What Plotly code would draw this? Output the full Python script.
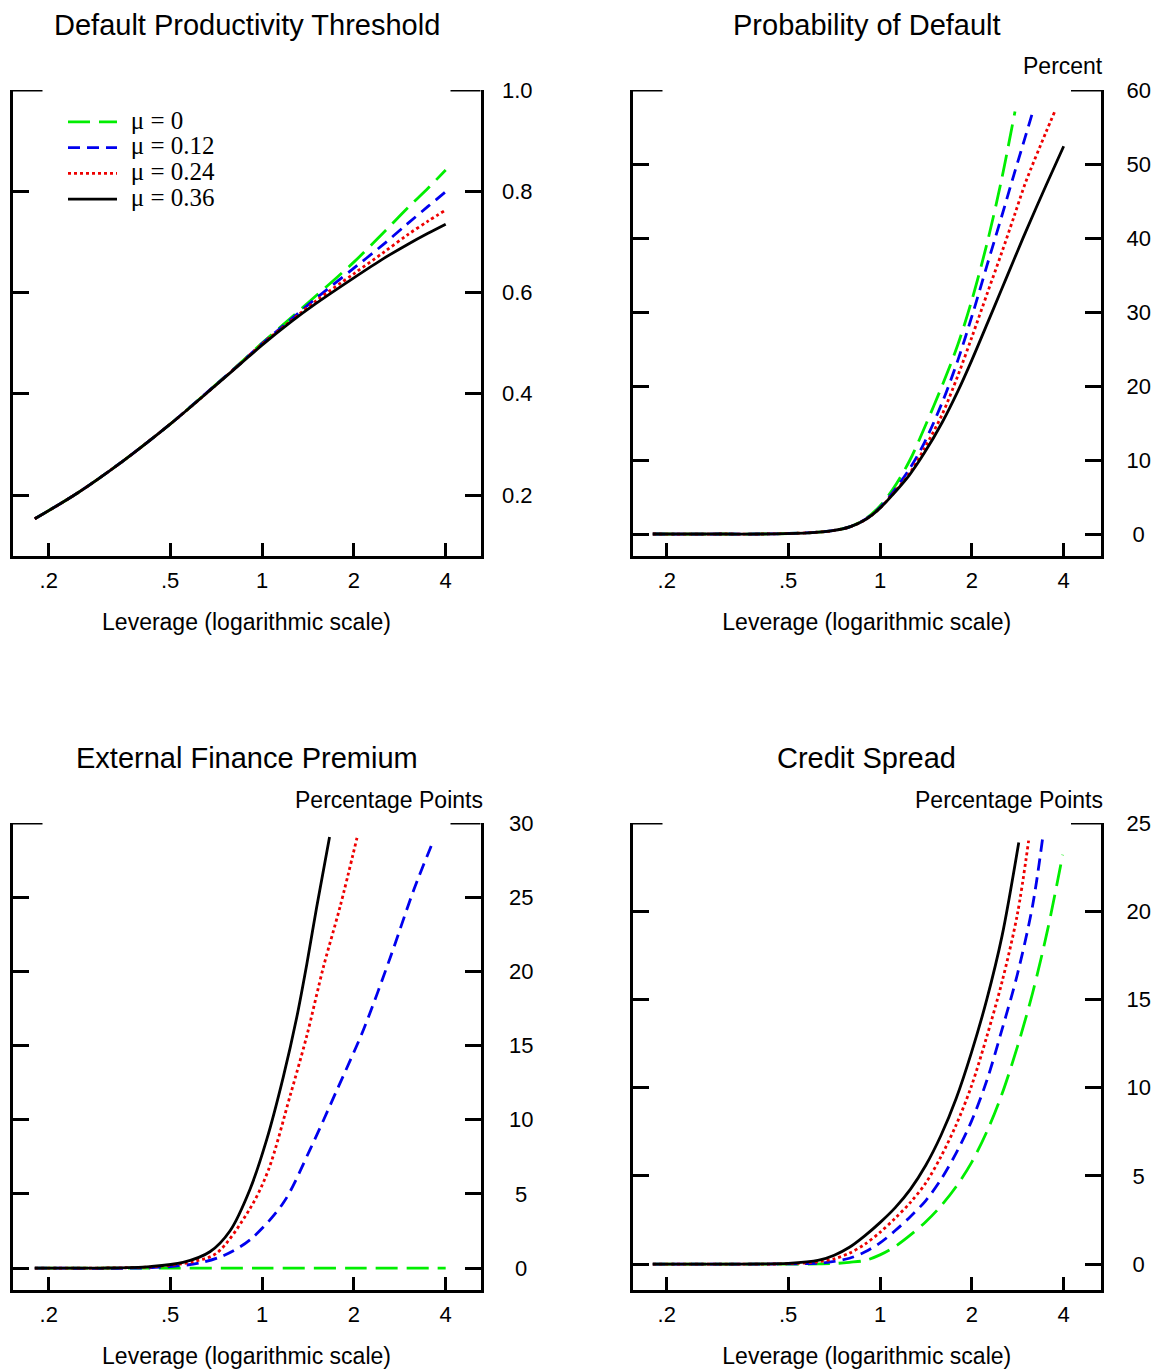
import math
import plotly.graph_objects as go

# ---------------- data ----------------
SERIES_NAMES = ["\u03bc = 0", "\u03bc = 0.12", "\u03bc = 0.24", "\u03bc = 0.36"]
COLORS = ["#00ee00", "#0000ee", "#ee0000", "#000000"]
DASHES = ["22px,9px", "12px,7px", "3px,3px", "solid"]

PANEL_TITLES = ["Default Productivity Threshold", "Probability of Default",
                "External Finance Premium", "Credit Spread"]
UNIT_LABELS = ["", "Percent", "Percentage Points", "Percentage Points"]
X_TITLE = "Leverage (logarithmic scale)"
X_TICKVALS = [0.2, 0.5, 1, 2, 4]
X_TICKTEXT = [".2", ".5", "1", "2", "4"]

# Panel 1: default productivity threshold
thr_lev = [0.18, 0.25, 0.35, 0.5, 0.7, 0.85, 1.0, 1.25, 1.5, 2.0, 2.5, 3.0, 3.5, 4.0]
thr_mu0 = [0.153, 0.205, 0.267, 0.340, 0.416, 0.461, 0.500, 0.551, 0.593, 0.660, 0.718, 0.767, 0.806, 0.842]
thr_mu12 = [0.153, 0.205, 0.267, 0.340, 0.416, 0.460, 0.499, 0.548, 0.588, 0.648, 0.695, 0.736, 0.770, 0.799]
thr_mu24 = [0.153, 0.205, 0.267, 0.340, 0.415, 0.460, 0.498, 0.545, 0.583, 0.637, 0.679, 0.714, 0.741, 0.763]
thr_mu36 = [0.153, 0.205, 0.267, 0.340, 0.415, 0.459, 0.496, 0.543, 0.578, 0.629, 0.667, 0.695, 0.717, 0.735]
thr_yticks = [0.2, 0.4, 0.6, 0.8, 1.0]
thr_yticktext = ["0.2", "0.4", "0.6", "0.8", "1.0"]

# Panel 2: probability of default (percent)
pd_lev_mu0 = [0.18, 0.3, 0.45, 0.6, 0.7, 0.8, 0.9, 1.0, 1.1, 1.25, 1.4, 1.6, 1.8, 2.0, 2.25, 2.5, 2.77]
pd_mu0 = [0, 0, 0.02, 0.2, 0.45, 1.0, 2.1, 3.8, 6.0, 9.9, 14.4, 20.1, 25.6, 31.6, 39.5, 47.8, 57.1]
pd_lev_mu12 = [0.18, 0.3, 0.45, 0.6, 0.7, 0.8, 0.9, 1.0, 1.1, 1.25, 1.4, 1.6, 1.8, 2.0, 2.25, 2.5, 2.75, 3.0, 3.19]
pd_mu12 = [0, 0, 0.02, 0.2, 0.45, 1.0, 2.05, 3.6, 5.6, 8.8, 12.4, 17.8, 23.5, 29.4, 36.5, 42.8, 48.6, 53.8, 57.5]
pd_lev_mu24 = [0.18, 0.3, 0.45, 0.6, 0.7, 0.8, 0.9, 1.0, 1.1, 1.25, 1.4, 1.6, 1.8, 2.0, 2.25, 2.5, 2.75, 3.0, 3.5, 3.74]
pd_mu24 = [0, 0, 0.02, 0.2, 0.45, 1.0, 2.0, 3.5, 5.4, 8.2, 11.6, 16.2, 21.4, 26.6, 32.6, 37.9, 42.9, 47.5, 54.3, 57.1]
pd_lev_mu36 = [0.18, 0.3, 0.45, 0.6, 0.7, 0.8, 0.9, 1.0, 1.1, 1.25, 1.4, 1.6, 1.8, 2.0, 2.25, 2.5, 2.75, 3.0, 3.5, 4.0]
pd_mu36 = [0, 0, 0.02, 0.2, 0.45, 1.0, 2.0, 3.5, 5.3, 8.0, 11.0, 15.1, 19.3, 23.5, 28.5, 33.0, 37.1, 40.8, 47.1, 52.4]
pd_yticks = [0, 10, 20, 30, 40, 50, 60]
pd_yticktext = ["\u00a00", "10", "20", "30", "40", "50", "60"]

# Panel 3: external finance premium (percentage points)
efp_lev_mu0 = [0.18, 0.5, 1.0, 2.0, 4.0]
efp_mu0 = [0, 0, 0, 0, 0]
efp_lev_mu12 = [0.18, 0.4, 0.5, 0.625, 0.75, 0.913, 1.175, 1.438, 1.76, 2.154, 2.64, 3.145, 3.66]
efp_mu12 = [0, 0, 0.1, 0.34, 0.85, 1.9, 4.4, 8.0, 12.0, 16.1, 21.0, 25.5, 28.9]
efp_lev_mu24 = [0.18, 0.3, 0.45, 0.6, 0.71, 0.913, 1.049, 1.236, 1.40, 1.59, 1.805, 2.048]
efp_mu24 = [0, 0, 0.1, 0.45, 1.0, 4.0, 6.6, 11.6, 15.6, 20.3, 24.4, 29.0]
efp_lev_mu36 = [0.18, 0.3, 0.43, 0.551, 0.675, 0.785, 0.913, 1.036, 1.175, 1.30, 1.40, 1.51, 1.665]
efp_mu36 = [0, 0, 0.1, 0.38, 1.1, 2.5, 5.3, 8.65, 12.9, 16.9, 20.4, 24.3, 29.06]
efp_yticks = [0, 5, 10, 15, 20, 25, 30]
efp_yticktext = ["\u00a00", "\u00a05", "10", "15", "20", "25", "30"]

# Panel 4: credit spread (percentage points)
cs_lev_mu0 = [0.18, 0.3, 0.5, 0.631, 0.708, 0.794, 0.891, 1.0, 1.122, 1.259, 1.413, 1.585, 1.778,
              1.995, 2.239, 2.512, 2.818, 3.162, 3.548, 3.97]
cs_mu0 = [0, 0, 0.0, 0.01, 0.03, 0.1, 0.2, 0.52, 1.0, 1.65, 2.4, 3.3, 4.4,
          5.75, 7.5, 9.65, 12.3, 15.35, 19.0, 23.2]
cs_lev_mu12 = [0.18, 0.3, 0.5, 0.631, 0.708, 0.794, 0.891, 1.0, 1.122, 1.259, 1.413, 1.585, 1.778,
               1.995, 2.239, 2.512, 2.818, 3.162, 3.41]
cs_mu12 = [0, 0, 0.01, 0.05, 0.15, 0.33, 0.68, 1.2, 1.9, 2.7, 3.6, 4.8, 6.3,
           8.1, 10.4, 13.3, 16.4, 20.3, 24.1]
cs_lev_mu24 = [0.18, 0.3, 0.5, 0.631, 0.708, 0.794, 0.891, 1.0, 1.122, 1.259, 1.413, 1.585, 1.778,
               1.995, 2.239, 2.512, 2.818, 3.07]
cs_mu24 = [0, 0, 0.02, 0.14, 0.3, 0.62, 1.12, 1.8, 2.6, 3.5, 4.6, 6.1, 7.9,
           10.1, 12.9, 16.0, 19.8, 24.0]
cs_lev_mu36 = [0.18, 0.3, 0.5, 0.631, 0.708, 0.794, 0.891, 1.0, 1.122, 1.259, 1.413, 1.585, 1.778,
               1.995, 2.239, 2.512, 2.85]
cs_mu36 = [0, 0, 0.04, 0.22, 0.5, 0.95, 1.6, 2.35, 3.2, 4.25, 5.6, 7.3, 9.4,
           12.0, 15.0, 18.6, 23.9]
cs_yticks = [0, 5, 10, 15, 20, 25]
cs_yticktext = ["\u00a00", "\u00a05", "10", "15", "20", "25"]

# ---------------- layout geometry ----------------
W, H = 1157, 1372
SANS = "Liberation Sans, Arial, sans-serif"
SERIF = "Liberation Serif, Times New Roman, serif"
PX_PER_DECADE = 305.1

# box = (left, right, top, bottom) of plot area in px, x_one = px position of leverage 1
panels = [
    dict(box=(12.5, 480.5, 90, 556), x_one=262, yr=[0.0795, 1.0], yt=thr_yticks, ytt=thr_yticktext, stand=14,
         xs=[thr_lev] * 4, ys=[thr_mu0, thr_mu12, thr_mu24, thr_mu36]),
    dict(box=(632.5, 1101, 90, 556), x_one=880, yr=[-2.97, 60], yt=pd_yticks, ytt=pd_yticktext, stand=18,
         xs=[pd_lev_mu0, pd_lev_mu12, pd_lev_mu24, pd_lev_mu36], ys=[pd_mu0, pd_mu12, pd_mu24, pd_mu36]),
    dict(box=(12.5, 480.5, 823, 1290), x_one=262, yr=[-1.48, 30], yt=efp_yticks, ytt=efp_yticktext, stand=21,
         xs=[efp_lev_mu0, efp_lev_mu12, efp_lev_mu24, efp_lev_mu36], ys=[efp_mu0, efp_mu12, efp_mu24, efp_mu36]),
    dict(box=(632.5, 1101, 823, 1290), x_one=880, yr=[-1.47, 25], yt=cs_yticks, ytt=cs_yticktext, stand=18,
         xs=[cs_lev_mu0, cs_lev_mu12, cs_lev_mu24, cs_lev_mu36], ys=[cs_mu0, cs_mu12, cs_mu24, cs_mu36]),
]

fig = go.Figure()
layout = dict(width=W, height=H, margin=dict(l=0, r=0, t=0, b=0, pad=0, autoexpand=False),
              paper_bgcolor="white", plot_bgcolor="white",
              font=dict(family=SANS, size=22, color="black"),
              showlegend=True)
annotations = []
shapes = []

for i, p in enumerate(panels):
    n = i + 1
    sfx = "" if n == 1 else str(n)
    xl, xr, yt_px, yb_px = p["box"]
    xdom = [xl / W, xr / W]
    ydom = [1 - yb_px / H, 1 - yt_px / H]
    xrange = [(xl - p["x_one"]) / PX_PER_DECADE, (xr - p["x_one"]) / PX_PER_DECADE]
    for k in range(4):
        legend_name = "\u00a0\u00a0<span style='font-size:25px'>" + SERIES_NAMES[k] + "</span>"
        fig.add_trace(go.Scatter(
            x=p["xs"][k], y=p["ys"][k], mode="lines", name=legend_name,
            line=dict(color=COLORS[k], width=2.8, dash=DASHES[k], shape="spline", smoothing=0.9),
            showlegend=(n == 1), xaxis="x" + sfx, yaxis="y" + sfx, hoverinfo="skip"))
    layout["xaxis" + sfx] = dict(
        domain=xdom, anchor="y" + sfx, type="log", range=xrange,
        tickvals=X_TICKVALS, ticktext=X_TICKTEXT, ticks="inside", ticklen=13, tickwidth=3,
        tickcolor="black", showline=True, linewidth=3, linecolor="black", mirror=False,
        showgrid=False, zeroline=False, ticklabelstandoff=3, automargin=False,
        tickfont=dict(family=SANS, size=22),
        title=dict(text=X_TITLE, font=dict(family=SANS, size=23), standoff=22))
    layout["yaxis" + sfx] = dict(
        domain=ydom, anchor="x" + sfx, side="right", range=p["yr"],
        tickvals=p["yt"], ticktext=p["ytt"], ticks="inside", ticklen=16, tickwidth=3,
        tickcolor="black", showline=True, linewidth=3, linecolor="black", mirror="ticks",
        showgrid=False, zeroline=False, ticklabelstandoff=p["stand"], automargin=False,
        tickfont=dict(family=SANS, size=22))
    # longer tick marks at the top of the frame
    top = p["yr"][1]
    frac = 30 / (xr - xl)
    for a, b in [(0, frac), (1 - frac, 1)]:
        shapes.append(dict(type="line", xref="x" + sfx + " domain", yref="y" + sfx,
                           x0=a, x1=b, y0=top, y1=top, line=dict(color="black", width=3)))
    # panel title
    title_y = 25 if n <= 2 else 758
    annotations.append(dict(text=PANEL_TITLES[i], xref="paper", yref="paper",
                            x=(xl + xr) / 2 / W, y=1 - title_y / H, xanchor="center", yanchor="middle",
                            showarrow=False, font=dict(family=SANS, size=29)))
    if UNIT_LABELS[i]:
        unit_y = 66 if n <= 2 else 800
        annotations.append(dict(text=UNIT_LABELS[i], xref="paper", yref="paper",
                                x=(xr + 4) / W, y=1 - unit_y / H, xanchor="right", yanchor="middle",
                                showarrow=False, font=dict(family=SANS, size=23)))

layout["annotations"] = annotations
layout["shapes"] = shapes
layout["legend"] = dict(x=63 / W, y=1 - 104 / H, xanchor="left", yanchor="top",
                        bgcolor="rgba(0,0,0,0)", borderwidth=0,
                        font=dict(family=SERIF, size=17.5), itemwidth=49,
                        tracegroupgap=0)
fig.update_layout(**layout)
fig.write_html("out.html", config={"displayModeBar": False},
               post_script="document.body.style.margin='0';document.body.style.overflow='hidden';")
